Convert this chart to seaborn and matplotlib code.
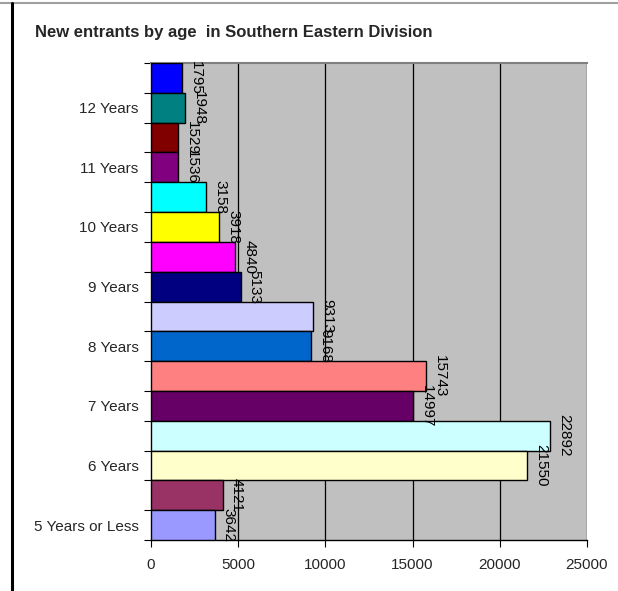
import matplotlib
matplotlib.use("Agg")
import matplotlib.pyplot as plt
from matplotlib.lines import Line2D
import seaborn as sns
import pandas as pd
import numpy as np

# Data (bottom to top in the reference)
age_labels = ["5 Years or Less", "6 Years", "7 Years", "8 Years",
              "9 Years", "10 Years", "11 Years", "12 Years"]
first_bar = [3642, 21550, 14997, 9168, 5133, 3918, 1536, 1948]
second_bar = [4121, 22892, 15743, 9313, 4840, 3158, 1529, 1795]
bar_colors = ["#9999FF", "#993366", "#FFFFCC", "#CCFFFF", "#660066", "#FF8080",
              "#0066CC", "#CCCCFF", "#000080", "#FF00FF", "#FFFF00", "#00FFFF",
              "#800080", "#800000", "#008080", "#0000FF"]
x_ticks = [0, 5000, 10000, 15000, 20000, 25000]

values = []
for a, b in zip(first_bar, second_bar):
    values += [a, b]
slots = [f"r{i}" for i in range(len(values))]
df = pd.DataFrame({"slot": slots, "value": values})
order = slots[::-1]  # top row first for seaborn
pal = dict(zip(slots, bar_colors))

sns.set_theme(style="white")
plt.rcParams["font.family"] = ["Liberation Sans", "DejaVu Sans"]

fig = plt.figure(figsize=(6.18, 5.91), dpi=100)
ax = fig.add_axes([151 / 618, 1 - 540 / 591, (587 - 151) / 618, (540 - 63) / 591])
ax.set_facecolor("#C0C0C0")

sns.barplot(data=df, x="value", y="slot", hue="slot", order=order, hue_order=order,
            palette=pal, saturation=1, legend=False, orient="h", width=1.0,
            edgecolor="black", linewidth=1.0, ax=ax, zorder=3)

n = len(values)
ax.set_xlim(0, 25000)
ax.set_ylim(n - 0.5, -0.5)
ax.set_xticks(x_ticks)
ax.set_xticklabels([str(t) for t in x_ticks], fontsize=11)
ax.xaxis.grid(True, color="black", linewidth=0.9, zorder=0)
ax.yaxis.grid(False)
ax.set_axisbelow(True)

# y ticks: boundaries as major ticks, labels at every other bar centre
ax.set_yticks(np.arange(-0.5, n, 1.0))
ax.set_yticklabels([])
label_pos = [order.index(slots[2 * i]) for i in range(len(age_labels))]
ax.set_yticks(label_pos, minor=True)
ax.set_yticklabels(age_labels, minor=True, fontsize=11)
ax.tick_params(axis="y", which="major", length=5, width=0.8, color="black", direction="out", left=True)
ax.tick_params(axis="y", which="minor", length=0, pad=9)
ax.tick_params(axis="x", which="major", length=5, width=0.8, color="black", direction="out", bottom=True, pad=8)
ax.set_xlabel("")
ax.set_ylabel("")

for s in ["left", "bottom"]:
    ax.spines[s].set_color("black")
    ax.spines[s].set_linewidth(1.0)
ax.spines["top"].set_color("#808080")
ax.spines["top"].set_linewidth(1.5)
ax.spines["right"].set_visible(False)

# value labels
for s, v in zip(slots, values):
    ax.annotate(str(v), xy=(v, order.index(s)), xytext=(5, 0), textcoords="offset points",
                rotation=270, ha="left", va="center", fontsize=11, color="black",
                annotation_clip=False, zorder=5)

fig.text(35 / 618, 1 - 32 / 591, "New entrants by age  in Southern Eastern Division",
         fontsize=12, fontweight="bold", ha="left", va="center")

# outer frame lines
fig.add_artist(Line2D([0, 1], [1 - 3 / 591, 1 - 3 / 591], color="#A0A0A0", linewidth=1.5,
                      transform=fig.transFigure))
fig.add_artist(Line2D([12 / 618, 12 / 618], [0, 1 - 3 / 591], color="black", linewidth=2.2,
                      transform=fig.transFigure))

fig.savefig("out.png", dpi=100, facecolor="white")
